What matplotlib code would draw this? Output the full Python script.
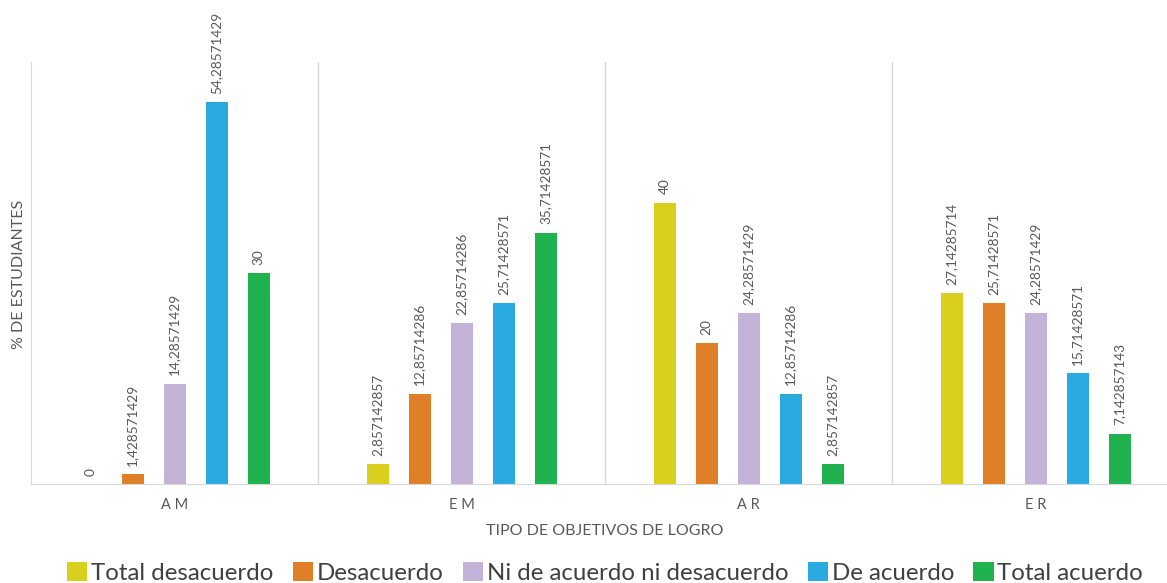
import matplotlib
matplotlib.use("Agg")
import matplotlib.pyplot as plt
import numpy as np

plt.rcParams['font.family'] = ['Lato', 'DejaVu Sans']

categories = ["A M", "E M", "A R", "E R"]
series_names = ["Total desacuerdo", "Desacuerdo", "Ni de acuerdo ni desacuerdo",
                "De acuerdo", "Total acuerdo"]
total_desacuerdo = [0, 2.857142857, 40, 27.14285714]
desacuerdo = [1.428571429, 12.85714286, 20, 25.71428571]
ni_ni = [14.28571429, 22.85714286, 24.28571429, 24.28571429]
de_acuerdo = [54.28571429, 25.71428571, 12.85714286, 15.71428571]
total_acuerdo = [30, 35.71428571, 2.857142857, 7.142857143]
labels = [
    ["0", "2,857142857", "40", "27,14285714"],
    ["1,428571429", "12,85714286", "20", "25,71428571"],
    ["14,28571429", "22,85714286", "24,28571429", "24,28571429"],
    ["54,28571429", "25,71428571", "12,85714286", "15,71428571"],
    ["30", "35,71428571", "2,857142857", "7,142857143"],
]
colors = ["#DBCF1E", "#DF7F27", "#C3B3D8", "#29ABE2", "#1FB24F"]

W, H = 1167, 583
fig = plt.figure(figsize=(W / 100, H / 100), dpi=100)
ax = fig.add_axes([31 / W, (H - 484) / H, (1179 - 31) / W, (484 - 62) / H])

all_series = [total_desacuerdo, desacuerdo, ni_ni, de_acuerdo, total_acuerdo]
x = np.arange(len(categories))
step = 42 / 287
width = 22 / 287
for i, vals in enumerate(all_series):
    pos = x + (i - 2) * step
    ax.bar(pos, vals, width=width, color=colors[i], label=series_names[i], zorder=2)
    for p, v, t in zip(pos, vals, labels[i]):
        ax.annotate(t, (p, v), xytext=(0, 6), textcoords="offset points",
                    rotation=90, ha="center", va="bottom", fontsize=9.8, color="#595959")

ax.set_xlim(-0.5, len(categories) - 0.5)
ax.set_ylim(0, 60)
for b in np.arange(0.5, len(categories) - 0.5, 1):
    ax.axvline(b, color="#D9D9D9", lw=1, zorder=1)
for s in ["top", "right"]:
    ax.spines[s].set_visible(False)
ax.spines["left"].set_color("#D9D9D9")
ax.spines["bottom"].set_color("#D9D9D9")
ax.set_yticks([])
ax.set_xticks(x)
ax.set_xticklabels(categories, fontsize=10.5, color="#595959")
ax.tick_params(axis="x", length=0, pad=10)
ax.set_xlabel("TIPO DE OBJETIVOS DE LOGRO", fontsize=11.5, color="#595959")
ax.xaxis.set_label_coords((605 - 31) / (1179 - 31), -(524 - 484) / (484 - 62))
ax.set_ylabel("% DE ESTUDIANTES", fontsize=11.5, color="#595959")
ax.yaxis.set_label_coords(-(31 - 26) / (1179 - 31), (484 - 274) / (484 - 62))

fig.legend(loc="center", bbox_to_anchor=(605 / W, 1 - 573 / H), ncol=5, frameon=False,
           fontsize=17.3, handlelength=0.85, handleheight=0.85, handletextpad=0.15,
           columnspacing=0.8, labelcolor="#404040")

fig.savefig("out.png", dpi=100)
